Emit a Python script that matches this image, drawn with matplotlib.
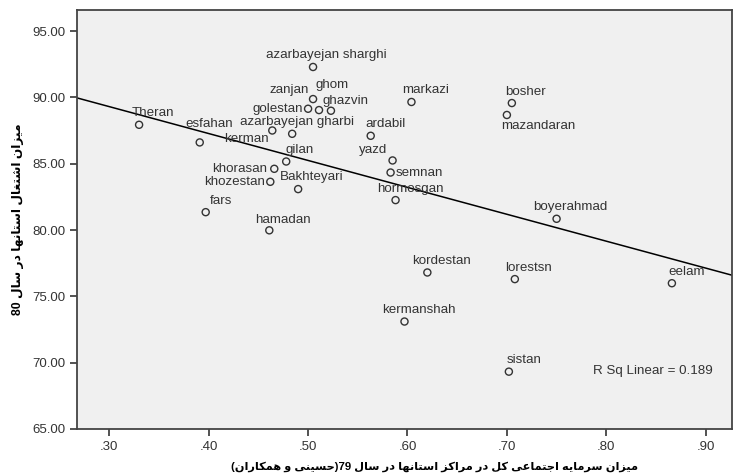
import numpy as np
import matplotlib
matplotlib.use("Agg")
import matplotlib.pyplot as plt

# province names and values
provinces = ["Theran", "esfahan", "fars", "azarbayejan sharghi", "zanjan", "golestan",
             "ghom", "ghazvin", "kerman", "azarbayejan gharbi", "ardabil", "gilan",
             "khorasan", "khozestan", "Bakhteyari", "hamadan", "markazi", "yazd",
             "semnan", "hormosgan", "bosher", "mazandaran", "boyerahmad", "kordestan",
             "kermanshah", "lorestsn", "eelam", "sistan"]
social_capital_79 = [0.330, 0.391, 0.397, 0.505, 0.505, 0.500,
                     0.511, 0.523, 0.464, 0.484, 0.563, 0.478,
                     0.466, 0.462, 0.490, 0.461, 0.604, 0.585,
                     0.583, 0.588, 0.705, 0.700, 0.750, 0.620,
                     0.597, 0.708, 0.866, 0.702]
employment_80 = [87.94, 86.61, 81.35, 92.30, 89.88, 89.15,
                 89.05, 89.00, 87.51, 87.26, 87.11, 85.17,
                 84.62, 83.64, 83.09, 79.98, 89.66, 85.25,
                 84.34, 82.26, 89.58, 88.68, 80.85, 76.80,
                 73.10, 76.30, 75.99, 69.32]

# label placement (pixels from the point)
label_offsets = [(14, 12), (9, 18), (15, 11), (13, 12), (-24, 9), (-30, 0),
                 (13, 25), (15, 10), (-26, -9), (5, 12), (15, 12), (13, 12),
                 (-35, 0), (-36, 0), (14, 12), (14, 10), (14, 12), (-19, 10),
                 (29, 0), (15, 11), (14, 11), (31, -11), (14, 12), (14, 11),
                 (14, 12), (14, 11), (15, 11), (15, 12)]

x_title = "میزان سرمایه اجتماعی کل در مراکز استانها در سال 79(حسینی و همکاران)"
y_title = "میزان اشتغال استانها در سال 80"

# arabic presentation forms: isolated, final, initial, medial
FORMS = {
    '\u0627': ('\uFE8D', '\uFE8E', None, None),
    '\u062A': ('\uFE95', '\uFE96', '\uFE97', '\uFE98'),
    '\u062C': ('\uFE9D', '\uFE9E', '\uFE9F', '\uFEA0'),
    '\u062D': ('\uFEA1', '\uFEA2', '\uFEA3', '\uFEA4'),
    '\u062F': ('\uFEA9', '\uFEAA', None, None),
    '\u0631': ('\uFEAD', '\uFEAE', None, None),
    '\u0632': ('\uFEAF', '\uFEB0', None, None),
    '\u0633': ('\uFEB1', '\uFEB2', '\uFEB3', '\uFEB4'),
    '\u0634': ('\uFEB5', '\uFEB6', '\uFEB7', '\uFEB8'),
    '\u0639': ('\uFEC9', '\uFECA', '\uFECB', '\uFECC'),
    '\u063A': ('\uFECD', '\uFECE', '\uFECF', '\uFED0'),
    '\u0644': ('\uFEDD', '\uFEDE', '\uFEDF', '\uFEE0'),
    '\u0645': ('\uFEE1', '\uFEE2', '\uFEE3', '\uFEE4'),
    '\u0646': ('\uFEE5', '\uFEE6', '\uFEE7', '\uFEE8'),
    '\u0647': ('\uFEE9', '\uFEEA', '\uFEEB', '\uFEEC'),
    '\u0648': ('\uFEED', '\uFEEE', None, None),
    '\u06CC': ('\uFBFC', '\uFBFD', '\uFBFE', '\uFBFF'),
    '\u06A9': ('\uFB8E', '\uFB8F', '\uFB90', '\uFB91'),
}
MIRROR = {'(': ')', ')': '('}


def shape_rtl(text):
    text = text.replace('\u064A', '\u06CC').replace('\u0643', '\u06A9')
    shaped = []
    for i, c in enumerate(text):
        if c not in FORMS:
            shaped.append(c)
            continue
        prev = text[i - 1] if i > 0 else None
        nxt = text[i + 1] if i + 1 < len(text) else None
        join_prev = prev in FORMS and FORMS[prev][2] is not None
        join_next = nxt in FORMS and FORMS[c][2] is not None
        if join_prev and join_next:
            shaped.append(FORMS[c][3])
        elif join_prev:
            shaped.append(FORMS[c][1])
        elif join_next:
            shaped.append(FORMS[c][2])
        else:
            shaped.append(FORMS[c][0])
    # split into digit runs (LTR) and the rest (RTL), then reorder
    runs = []
    for c in shaped:
        is_digit = c.isdigit()
        if runs and runs[-1][0] == is_digit:
            runs[-1][1].append(c)
        else:
            runs.append([is_digit, [c]])
    out = ""
    for is_digit, chars in reversed(runs):
        if is_digit:
            out += "".join(chars)
        else:
            out += "".join(MIRROR.get(c, c) for c in reversed(chars))
    return out


def main():
    plt.rcParams['font.family'] = ['Liberation Sans', 'DejaVu Sans']

    fig = plt.figure(figsize=(7.33, 4.75), dpi=100)
    ax = fig.add_axes([0.105, 0.097, 0.893, 0.882])
    ax.set_facecolor('#f0f0f0')

    ax.scatter(social_capital_79, employment_80, s=26, facecolors='none',
               edgecolors='#333333', linewidths=1.0, zorder=3)

    for name, x, y, (dx, dy) in zip(provinces, social_capital_79, employment_80, label_offsets):
        ax.annotate(name, (x, y), xytext=(dx, dy), textcoords='offset pixels',
                    ha='center', va='center', fontsize=9.6, color='#333333')

    xlim = (0.2675, 0.926)
    slope, intercept = np.polyfit(social_capital_79, employment_80, 1)
    xs = np.array(xlim)
    ax.plot(xs, intercept + slope * xs, color='black', linewidth=1.1, zorder=2)

    ax.text(0.787, 69.38, "R Sq Linear = 0.189", ha='left', va='center',
            fontsize=9.6, color='#333333')

    ax.set_xlim(*xlim)
    ax.set_ylim(65, 96.6)
    ax.set_xticks([0.3, 0.4, 0.5, 0.6, 0.7, 0.8, 0.9])
    ax.set_xticklabels(['.30', '.40', '.50', '.60', '.70', '.80', '.90'])
    ax.set_yticks([65, 70, 75, 80, 85, 90, 95])
    ax.set_yticklabels(['%.2f' % v for v in [65, 70, 75, 80, 85, 90, 95]])
    ax.tick_params(direction='out', length=5, width=1.3, color='#444444',
                   labelsize=9.5, labelcolor='#333333')
    for side in ax.spines.values():
        side.set_color('#444444')
        side.set_linewidth(1.3)

    ax.set_xlabel(shape_rtl(x_title), fontsize=8.2, fontweight='bold',
                  labelpad=6, x=0.546)
    ax.set_ylabel(shape_rtl(y_title), fontsize=8.8, fontweight='bold', labelpad=6)

    fig.savefig('out.png', dpi=100)


if __name__ == '__main__':
    main()
